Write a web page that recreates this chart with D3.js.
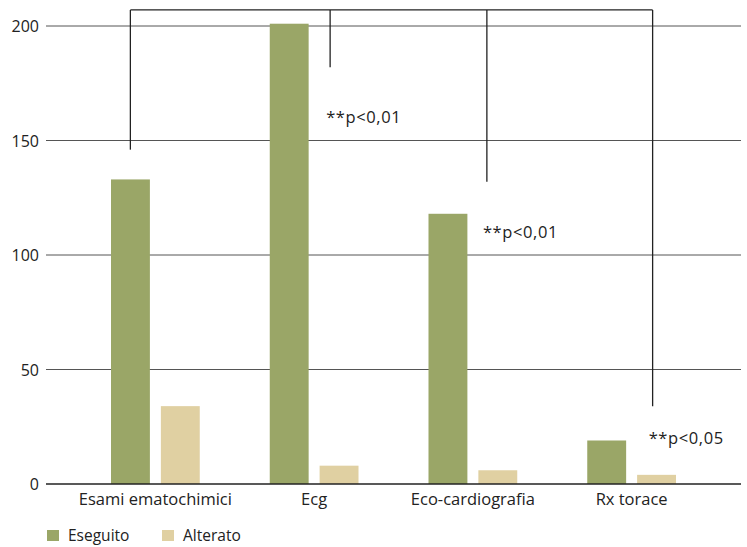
<!DOCTYPE html>
<html><head><meta charset="utf-8">
<script src="https://cdn.jsdelivr.net/npm/d3@7"></script>
<style>body{margin:0;background:#fff}svg{display:block}text{font-family:"Open Sans",sans-serif;fill:#222}</style>
</head><body><svg id="c" width="747" height="547"></svg>
<script>
const categories = ["Esami ematochimici","Ecg","Eco-cardiografia","Rx torace"];
const seriesNames = ["Eseguito","Alterato"];
const eseguito = [133, 201, 118, 19];
const alterato = [34, 8, 6, 4];
const yTicks = [0, 50, 100, 150, 200];
const pLabels = ["", "**p<0,01", "**p<0,01", "**p<0,05"];
const bracketBottoms = [146, 182, 132, 34];
const pLabelValues = [0, 158, 108, 18];
const bracketTop = 207;

const colors = ["#9aa667","#e0d0a2"];
const svg = d3.select("#c");
const x = d3.scaleBand().domain(categories).range([76, 711]);
const y = d3.scaleLinear().domain([0, 200]).range([484, 26]);
const inner = d3.scaleBand().domain(seriesNames).range([35, x.bandwidth()-35]).paddingInner(0.22);

// gridlines
svg.append("g").selectAll("line").data(yTicks.filter(d=>d>0)).join("line")
  .attr("x1",46).attr("x2",741).attr("y1",d=>y(d)).attr("y2",d=>y(d))
  .attr("stroke","#555").attr("stroke-width",1);
// y labels
svg.append("g").selectAll("text").data(yTicks).join("text")
  .attr("x",39).attr("y",d=>y(d)+6).attr("text-anchor","end")
  .attr("font-size",16).text(d=>d);

// bars
const data = categories.map((c,i)=>({c, vals:[eseguito[i], alterato[i]]}));
const g = svg.append("g").selectAll("g").data(data).join("g")
  .attr("transform",d=>`translate(${x(d.c)},0)`);
g.selectAll("rect").data(d=>d.vals.map((v,j)=>({s:seriesNames[j],v,j}))).join("rect")
  .attr("x",d=>inner(d.s)).attr("width",inner.bandwidth())
  .attr("y",d=>y(d.v)).attr("height",d=>y(0)-y(d.v))
  .attr("fill",d=>colors[d.j]);

// zero axis
svg.append("line").attr("x1",46).attr("x2",741).attr("y1",y(0)).attr("y2",y(0))
  .attr("stroke","#222").attr("stroke-width",1.3);

// category labels
svg.append("g").selectAll("text").data(categories).join("text")
  .attr("x",d=>x(d)+x.bandwidth()/2).attr("y",505).attr("text-anchor","middle")
  .attr("font-size",16.5).text(d=>d);

// significance brackets
const dropShift = [-25, 16, 14, 21];
const pos = categories.map((c,i)=>x(c) + x.bandwidth()/2 + dropShift[i]);
const br = svg.append("g").attr("stroke","#222").attr("stroke-width",1.3).attr("fill","none");
br.append("line").attr("x1",pos[0]).attr("x2",pos[3]).attr("y1",y(bracketTop)).attr("y2",y(bracketTop));
br.selectAll("line.v").data(pos).join("line").attr("class","v")
  .attr("x1",d=>d).attr("x2",d=>d).attr("y1",y(bracketTop)).attr("y2",(d,i)=>y(bracketBottoms[i]));

// p labels
svg.append("g").selectAll("text").data(pLabels.map((t,i)=>({t,i})).filter(d=>d.t)).join("text")
  .attr("x",d=>pos[d.i]-4).attr("y",d=>y(pLabelValues[d.i])+1).attr("font-size",16.5)
  .attr("letter-spacing",0.6).text(d=>d.t);

// legend
const lg = svg.append("g").selectAll("g").data(seriesNames).join("g")
  .attr("transform",(d,i)=>`translate(${47+i*115},530)`);
lg.append("rect").attr("width",12).attr("height",11).attr("fill",(d,i)=>colors[i]);
lg.append("text").attr("x",21).attr("y",11).attr("font-size",15.5).text(d=>d);
</script></body></html>
